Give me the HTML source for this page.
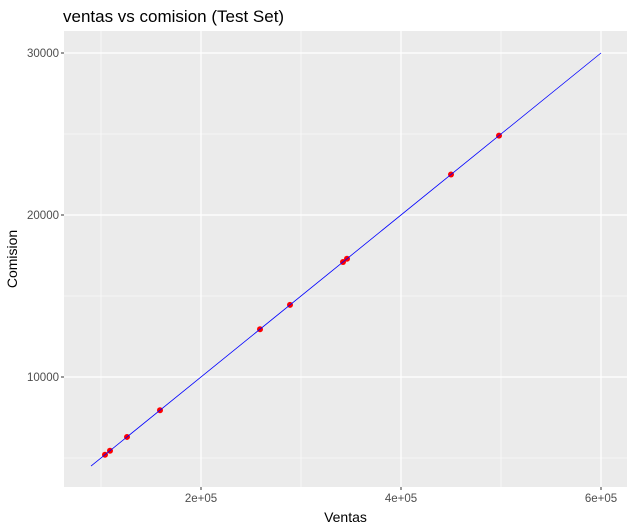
<!DOCTYPE html>
<html><head><meta charset="utf-8"><style>
body{margin:0;background:#fff;font-family:"Liberation Sans",sans-serif}
</style></head><body>
<svg id="chart" width="631" height="527" xmlns="http://www.w3.org/2000/svg"></svg>
<script>
const ventas=[104000,109000,126000,159000,259000,289000,342000,346000,450000,498000];
const comision=[5200,5450,6300,7950,12950,14450,17100,17300,22500,24900];
const lineX=[90000,600000];
const lineY=[4500,30000];
const xTicks=[200000,400000,600000];
const xTickLabels=["2e+05","4e+05","6e+05"];
const xMinor=[100000,300000,500000];
const yTicks=[10000,20000,30000];
const yTickLabels=["10000","20000","30000"];
const yMinor=[5000,15000,25000];
const L=64,R=627,T=31,B=487;
const sx=v=>1+v*0.001;
const sy=v=>53+(30000-v)*0.0162;
const svg=document.getElementById('chart');
const NS='http://www.w3.org/2000/svg';
function mk(tag,attrs,parent){const e=document.createElementNS(NS,tag);for(const k in attrs)e.setAttribute(k,attrs[k]);(parent||svg).appendChild(e);return e;}
let t=mk('text',{x:63,y:22,'font-size':17,fill:'#000'});t.textContent='ventas vs comision (Test Set)';


let p=mk('rect',{x:L,y:T,width:R-L,height:B-T,fill:'#ebebeb'});


xMinor.forEach(v=>{let l=mk('line',{x1:sx(v),x2:sx(v),y1:T,y2:B,stroke:'#fff','stroke-width':0.6});});
yMinor.forEach(v=>{let l=mk('line',{x1:L,x2:R,y1:sy(v),y2:sy(v),stroke:'#fff','stroke-width':0.6});});
xTicks.forEach((v,i)=>{
 let l=mk('line',{x1:sx(v),x2:sx(v),y1:T,y2:B,stroke:'#fff','stroke-width':1.2});
 let k=mk('line',{x1:sx(v),x2:sx(v),y1:B,y2:B+3,stroke:'#333'});
 let tx=mk('text',{x:sx(v),y:B+15,'font-size':11.5,fill:'#4d4d4d','text-anchor':'middle'});tx.textContent=xTickLabels[i];
});
yTicks.forEach((v,i)=>{
 let l=mk('line',{x1:L,x2:R,y1:sy(v),y2:sy(v),stroke:'#fff','stroke-width':1.2});
 let k=mk('line',{x1:L-3,x2:L,y1:sy(v),y2:sy(v),stroke:'#333'});
 let tx=mk('text',{x:L-5,y:sy(v)+4,'font-size':11.5,fill:'#4d4d4d','text-anchor':'end'});tx.textContent=yTickLabels[i];
});
ventas.forEach((v,i)=>{let c=mk('circle',{cx:sx(v),cy:sy(comision[i]),r:3,fill:'#ff0000'});});
let ln=mk('line',{x1:sx(lineX[0]),y1:sy(lineY[0]),x2:sx(lineX[1]),y2:sy(lineY[1]),stroke:'#0000ff','stroke-width':0.8});


let xt=mk('text',{x:(L+R)/2,y:522,'font-size':14,fill:'#000','text-anchor':'middle'});xt.textContent='Ventas';


let yt=mk('text',{x:0,y:0,'font-size':14,fill:'#000','text-anchor':'middle',transform:`translate(17,${(T+B)/2}) rotate(-90)`});yt.textContent='Comision';


</script>
</body></html>
